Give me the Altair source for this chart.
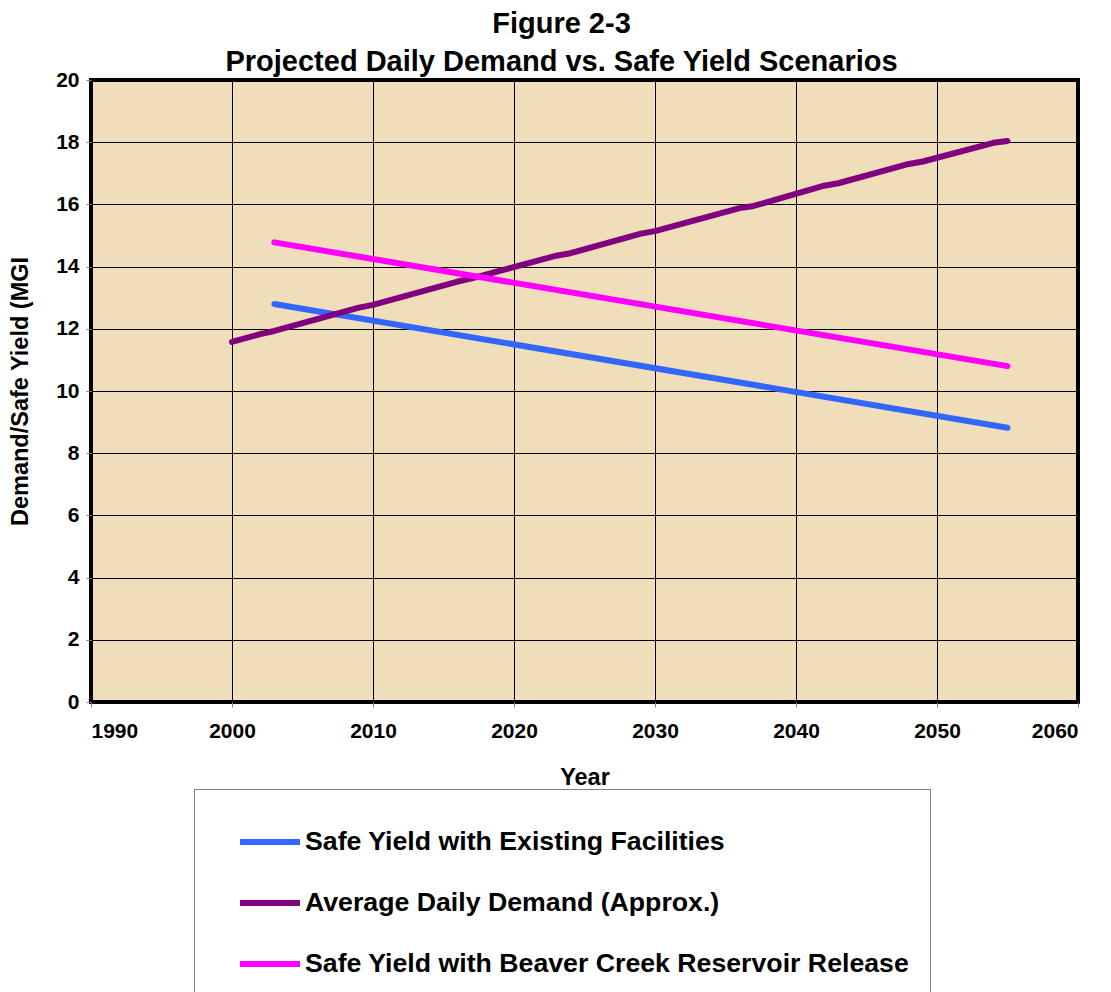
import altair as alt
import pandas as pd

series_names = [
    "Safe Yield with Existing Facilities",
    "Average Daily Demand (Approx.)",
    "Safe Yield with Beaver Creek Reservoir Release",
]
series_colors = ["#3366FF", "#800080", "#FF00FF"]

existing_years = [2003, 2055]
existing_values = [12.8, 8.82]

demand_years = [2000, 2002, 2003, 2009, 2010, 2016, 2017, 2023, 2024, 2029, 2030,
                2036, 2037, 2042, 2043, 2048, 2049, 2054, 2055]
demand_values = [11.58, 11.83, 11.93, 12.68, 12.77, 13.52, 13.62, 14.35, 14.43, 15.06, 15.14,
                 15.88, 15.95, 16.6, 16.68, 17.3, 17.38, 17.98, 18.04]

beaver_years = [2003, 2055]
beaver_values = [14.78, 10.8]

rows = []
for i, (ys, vs) in enumerate([(existing_years, existing_values),
                              (demand_years, demand_values),
                              (beaver_years, beaver_values)]):
    for y, v in zip(ys, vs):
        rows.append({"series": series_names[i], "order": i, "year": y, "value": v})
df = pd.DataFrame(rows)

x_ticks = [1990, 2000, 2010, 2020, 2030, 2040, 2050, 2060]
y_ticks = [0, 2, 4, 6, 8, 10, 12, 14, 16, 18, 20]

FONT = "Liberation Sans"

chart = alt.Chart(df).mark_line(strokeWidth=6, strokeCap="round", strokeJoin="round").encode(
    x=alt.X("year:Q", title="Year",
            scale=alt.Scale(domain=[1990, 2060], nice=False, zero=False),
            axis=alt.Axis(values=x_ticks, format="d", labelFontSize=21, labelFont=FONT,
                          labelFontWeight="bold", labelColor="black", titleFontSize=23.5,
                          titleFont=FONT, titleFontWeight="bold", titleColor="black",
                          titlePadding=24, labelPadding=13, tickColor="#808080", tickSize=5,
                          domain=False, grid=True, gridColor="black", gridWidth=1, gridOpacity=1)),
    y=alt.Y("value:Q", title="Demand/Safe Yield (MGI",
            scale=alt.Scale(domain=[0, 20], nice=False),
            axis=alt.Axis(values=y_ticks, labelFontSize=21, labelFont=FONT,
                          labelFontWeight="bold", labelColor="black", titleFontSize=23.5,
                          titleFont=FONT, titleFontWeight="bold", titleColor="black",
                          titlePadding=23, labelPadding=7, tickColor="#808080", tickSize=5,
                          domain=False, grid=True, gridColor="black", gridWidth=1, gridOpacity=1)),
    color=alt.Color("series:N",
                    scale=alt.Scale(domain=series_names, range=series_colors),
                    legend=alt.Legend(title=None, orient="none", legendX=103, legendY=709,
                                      direction="vertical", symbolType="stroke",
                                      symbolSize=3600, symbolStrokeWidth=6, symbolOffset=23,
                                      labelFontSize=26.7, labelFont=FONT, labelFontWeight="bold",
                                      labelColor="black", labelLimit=1000, labelOffset=2,
                                      rowPadding=14, padding=20, fillColor="white",
                                      strokeColor="#808080", cornerRadius=0)),
    order="order:Q",
    detail="series:N",
).properties(
    width=987,
    height=622,
    padding={"top": 2, "left": 0, "right": 5, "bottom": 5},
    title=alt.TitleParams(["Figure 2-3", "Projected Daily Demand vs. Safe Yield Scenarios"],
                          fontSize=29, font=FONT, fontWeight="bold", color="black",
                          anchor="middle", lineHeight=38, offset=-8, dx=-23),
).configure_view(
    fill="#EFDEB9", stroke="black", strokeWidth=4,
)

chart.save("out.html", embed_options={"renderer": "svg", "actions": False})
